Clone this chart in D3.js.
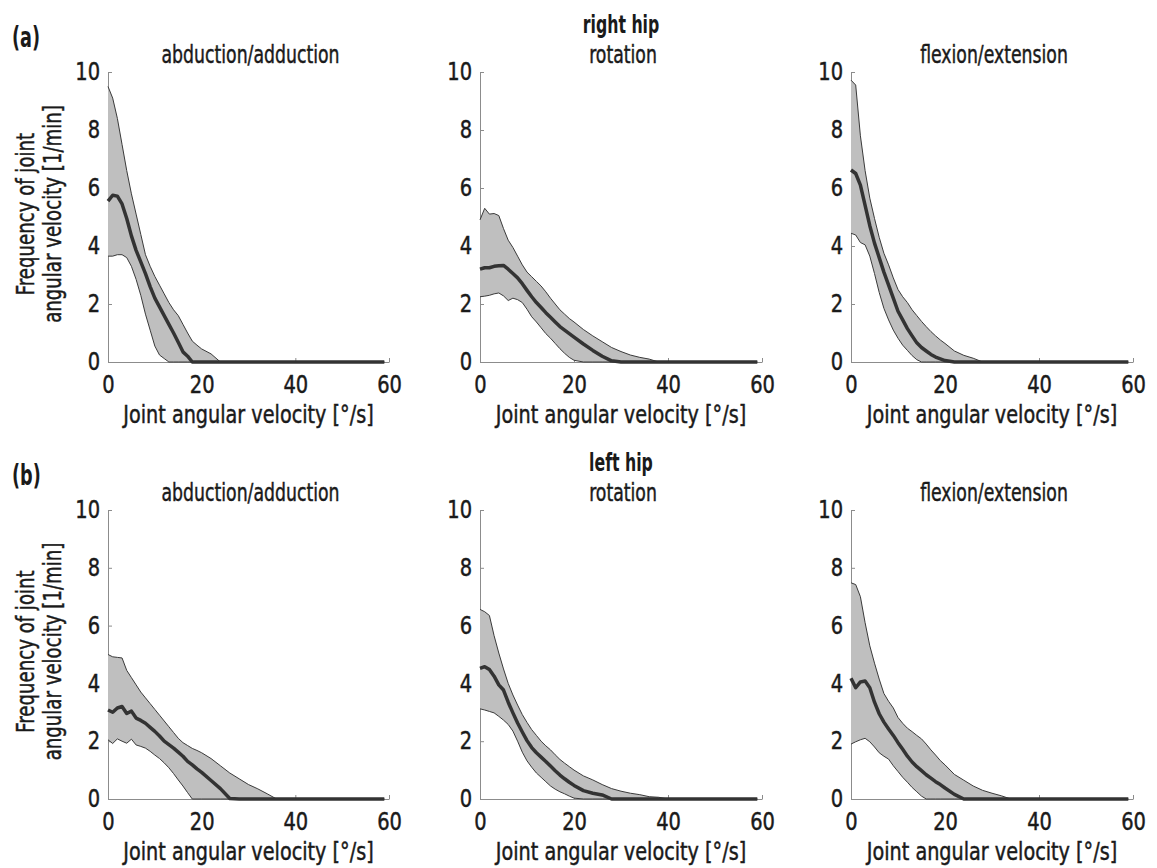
<!DOCTYPE html>
<html>
<head>
<meta charset="utf-8">
<script src="https://cdn.jsdelivr.net/npm/d3@7"></script>
<style>
  body { margin: 0; background: #fff; }
  text { font-family: "DejaVu Sans Condensed", "Liberation Sans Narrow", sans-serif; fill: #1a1a1a; stroke: #1a1a1a; stroke-width: 0.45px; }
</style>
</head>
<body>
<div id="chart"></div>
<script>
// joint angular velocity bins [deg/s] shared by all panels
var velocity = [0,1,2,3,4,5,6,7,8,9,10,11,12,13,14,15,16,17,18,19,20,22,24,26,28,30,32,34,36,38,40,59];

var xTicks = [0, 20, 40, 60];
var yTicks = [0, 2, 4, 6, 8, 10];

// (a) right hip
var rAbdUpper = [9.5,9.1,8.4,7.5,6.6,5.8,5.1,4.4,3.7,3.3,2.95,2.65,2.35,2.05,1.8,1.6,1.3,1.0,0.72,0.58,0.45,0.28,0,0,0,0,0,0,0,0,0,0];
var rAbdMean  = [5.55,5.75,5.72,5.45,4.95,4.35,3.85,3.45,3.05,2.6,2.2,1.9,1.6,1.3,1.0,0.68,0.35,0.2,0,0,0,0,0,0,0,0,0,0,0,0,0,0];
var rAbdLower = [3.65,3.65,3.7,3.7,3.6,3.3,2.85,2.3,1.65,1.1,0.55,0.24,0.12,0,0,0,0,0,0,0,0,0,0,0,0,0,0,0,0,0,0,0];

var rRotUpper = [4.9,5.3,5.1,5.12,5.05,4.6,4.2,3.95,3.65,3.35,3.1,2.94,2.78,2.62,2.42,2.2,2.0,1.8,1.65,1.5,1.38,1.12,0.9,0.7,0.5,0.36,0.24,0.16,0.1,0,0,0];
var rRotMean  = [3.2,3.25,3.25,3.3,3.32,3.33,3.2,3.05,2.9,2.7,2.47,2.25,2.05,1.88,1.7,1.54,1.38,1.22,1.1,0.98,0.86,0.62,0.4,0.2,0.04,0,0,0,0,0,0,0];
var rRotLower = [2.25,2.27,2.3,2.35,2.38,2.28,2.12,2.2,2.15,2.05,1.82,1.56,1.38,1.18,0.98,0.82,0.64,0.46,0.3,0.16,0.06,0,0,0,0,0,0,0,0,0,0,0];

var rFlexUpper = [9.72,9.55,7.8,6.6,5.65,4.95,4.3,3.75,3.35,2.9,2.5,2.25,2.05,1.8,1.6,1.4,1.22,1.05,0.9,0.76,0.64,0.38,0.23,0.13,0,0,0,0,0,0,0,0];
var rFlexMean  = [6.62,6.5,6.1,5.4,4.7,4.1,3.6,3.1,2.65,2.2,1.75,1.45,1.15,0.9,0.66,0.5,0.38,0.26,0.17,0.11,0.05,0,0,0,0,0,0,0,0,0,0,0];
var rFlexLower = [4.44,4.38,4.12,4.04,3.65,3.05,2.4,1.85,1.45,1.1,0.82,0.58,0.4,0.22,0.08,0,0,0,0,0,0,0,0,0,0,0,0,0,0,0,0,0];

// (b) left hip
var lAbdUpper = [5.0,4.92,4.9,4.88,4.45,4.2,3.95,3.7,3.5,3.3,3.1,2.9,2.7,2.5,2.3,2.1,1.95,1.85,1.75,1.68,1.6,1.4,1.15,0.9,0.7,0.5,0.35,0.18,0,0,0,0];
var lAbdMean  = [3.08,3.0,3.15,3.2,2.96,3.04,2.8,2.72,2.62,2.48,2.34,2.18,2.0,1.88,1.76,1.62,1.48,1.3,1.18,1.04,0.92,0.64,0.36,0.02,0,0,0,0,0,0,0,0];
var lAbdLower = [2.05,1.92,2.08,2.0,1.93,2.07,1.87,1.82,1.76,1.65,1.52,1.4,1.25,1.08,0.88,0.66,0.45,0.22,0,0,0,0,0,0,0,0,0,0,0,0,0,0];

var lRotUpper = [6.56,6.48,6.35,5.65,5.05,4.5,4.0,3.6,3.25,2.92,2.65,2.4,2.2,2.0,1.84,1.7,1.53,1.37,1.24,1.12,1.0,0.8,0.66,0.5,0.36,0.27,0.2,0.15,0.08,0.06,0,0];
var lRotMean  = [4.52,4.58,4.48,4.25,3.95,3.77,3.35,2.98,2.63,2.32,2.02,1.78,1.6,1.45,1.3,1.14,0.98,0.83,0.7,0.58,0.47,0.29,0.2,0.14,0,0,0,0,0,0,0,0];
var lRotLower = [3.12,3.08,3.03,2.98,2.86,2.73,2.58,2.35,2.0,1.62,1.32,1.1,0.9,0.75,0.6,0.45,0.34,0.25,0.18,0.1,0.03,0,0,0,0,0,0,0,0,0,0,0];

var lFlexUpper = [7.48,7.42,7.0,6.1,5.3,4.7,4.15,3.65,3.38,3.15,2.82,2.62,2.45,2.33,2.2,2.08,1.9,1.7,1.52,1.33,1.18,0.85,0.65,0.45,0.3,0.2,0.11,0,0,0,0,0];
var lFlexMean  = [4.18,3.85,4.05,4.08,3.85,3.35,2.95,2.66,2.42,2.2,1.95,1.72,1.48,1.28,1.12,0.98,0.84,0.72,0.6,0.5,0.38,0.16,0,0,0,0,0,0,0,0,0,0];
var lFlexLower = [1.9,1.98,2.05,2.1,1.98,1.8,1.6,1.48,1.38,1.15,0.95,0.75,0.58,0.4,0.25,0.1,0,0,0,0,0,0,0,0,0,0,0,0,0,0,0,0];

var rowTitles = ["right hip", "left hip"];
var rowLetters = ["(a)", "(b)"];
var colTitles = ["abduction/adduction", "rotation", "flexion/extension"];
var xLabel = "Joint angular velocity [°/s]";
var yLabel = ["Frequency of joint", "angular velocity [1/min]"];

var panels = [
    [[rAbdLower, rAbdMean, rAbdUpper], [rRotLower, rRotMean, rRotUpper], [rFlexLower, rFlexMean, rFlexUpper]],
    [[lAbdLower, lAbdMean, lAbdUpper], [lRotLower, lRotMean, lRotUpper], [lFlexLower, lFlexMean, lFlexUpper]]
];

var width = 1157,
    height = 868;

var svg = d3.select("#chart")
    .append("svg")
    .attr("width", width)
    .attr("height", height);

// pixel extents of the plot boxes
var colX = [[108, 389], [480, 762], [851, 1133]];
var rowY = [[362, 72], [799, 510]];

// the original uses a narrow font, squeeze the text to its width
function narrow(sel, factor) {
    sel.each(function () {
        var w = this.getComputedTextLength();
        d3.select(this)
            .attr("textLength", w * factor)
            .attr("lengthAdjust", "spacingAndGlyphs");
    });
    return sel;
}

function drawPanel(r, c) {
    var series = panels[r][c];
    var lower = series[0], mean = series[1], upper = series[2];

    var x = d3.scaleLinear().domain([0, 60]).range(colX[c]);
    var y = d3.scaleLinear().domain([0, 10]).range(rowY[r]);

    var g = svg.append("g");

    // axes, ticks pointing inward like matlab
    var xAxis = g.append("g")
        .attr("transform", `translate(0,${rowY[r][0]})`)
        .call(d3.axisBottom(x).tickValues(xTicks).tickSizeInner(-4).tickSizeOuter(0).tickPadding(14));
    var yAxis = g.append("g")
        .attr("transform", `translate(${colX[c][0]},0)`)
        .call(d3.axisLeft(y).tickValues(yTicks).tickSizeInner(-4).tickSizeOuter(0).tickPadding(8));

    [xAxis, yAxis].forEach(a => {
        a.select(".domain").attr("stroke", "#8c8c8c");
        a.selectAll(".tick line").attr("stroke", "#8c8c8c");
        a.selectAll(".tick text")
            .attr("font-family", null)
            .style("font-size", "24px")
            .attr("fill", "#1a1a1a")
            .call(narrow, 0.9);
    });

    // spread band
    var area = d3.area()
        .x((d, i) => x(velocity[i]))
        .y0((d, i) => y(lower[i]))
        .y1((d, i) => y(upper[i]));

    g.append("path")
        .attr("d", area(velocity))
        .attr("fill", "#bfbfbf")
        .attr("stroke", "none");

    var line = d3.line()
        .x((d, i) => x(velocity[i]))
        .y(d => y(d));

    [lower, upper].forEach(s => {
        g.append("path")
            .attr("d", line(s))
            .attr("fill", "none")
            .attr("stroke", "#3a3a3a")
            .attr("stroke-width", 1);
    });

    // mean curve
    g.append("path")
        .attr("d", line(mean))
        .attr("fill", "none")
        .attr("stroke", "#333")
        .attr("stroke-width", 3.5)
        .attr("stroke-linejoin", "round");

    var cx = (colX[c][0] + colX[c][1]) / 2;

    // subplot title
    g.append("text")
        .attr("x", cx + 2)
        .attr("y", rowY[r][1] - 9)
        .attr("text-anchor", "middle")
        .style("font-size", "24px")
        .text(colTitles[c])
        .call(narrow, 0.8);

    // x label
    g.append("text")
        .attr("x", cx)
        .attr("y", rowY[r][0] + 61)
        .attr("text-anchor", "middle")
        .style("font-size", "24px")
        .text(xLabel)
        .call(narrow, 0.89);

    // y label only on the first column
    if (c == 0) {
        var cy = (rowY[r][0] + rowY[r][1]) / 2 - 3;
        yLabel.forEach((t, k) => {
            g.append("text")
                .attr("transform", `translate(${34 + k * 27},${cy}) rotate(-90)`)
                .attr("text-anchor", "middle")
                .style("font-size", "24px")
                .text(t)
                .call(narrow, 0.84);
        });
    }
}

for (var r = 0; r < 2; r++) {
    // row title over the middle column
    svg.append("text")
        .attr("x", (colX[1][0] + colX[1][1]) / 2)
        .attr("y", rowY[r][1] - 39)
        .attr("text-anchor", "middle")
        .style("font-size", "25px")
        .style("font-weight", "bold")
        .style("stroke-width", "0px")
        .text(rowTitles[r])
        .call(narrow, 0.7);

    svg.append("text")
        .attr("x", 12)
        .attr("y", rowY[r][1] - 25)
        .style("font-size", "28px")
        .style("font-weight", "bold")
        .style("stroke-width", "0px")
        .text(rowLetters[r])
        .call(narrow, 0.7);

    for (var c = 0; c < 3; c++) {
        drawPanel(r, c);
    }
}
</script>
</body>
</html>
